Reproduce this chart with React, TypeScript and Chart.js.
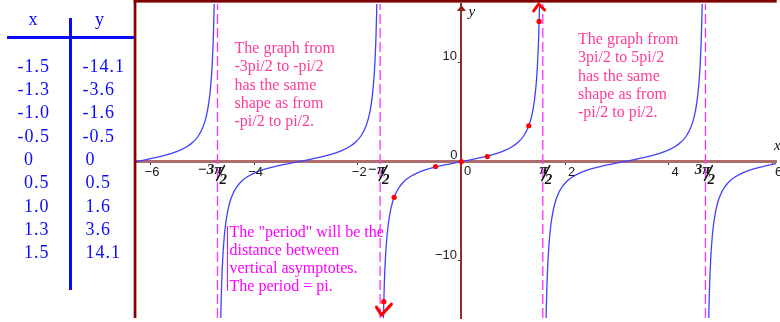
import { useEffect, useRef } from "react";
import { Chart, registerables } from "chart.js";

Chart.register(...registerables);

// Visible window of the graph
const X_MIN = -6.305;
const X_MAX = 6.075;
const Y_MIN = -15.74;
const Y_MAX = 15.85;

// Value table shown on the left
const tableX = ["-1.5", "-1.3", "-1.0", "-0.5", "0", "0.5", "1.0", "1.3", "1.5"];
const tableY = ["-14.1", "-3.6", "-1.6", "-0.5", "0", "0.5", "1.6", "3.6", "14.1"];

// Points plotted in red from the table
const dotX = [-1.5, -1.3, -0.5, 0, 0.5, 1.3, 1.5];
const dotY = [-14.1, -3.6, -0.5, 0, 0.5, 3.6, 14.1];

// One branch of y = tan x, as offsets from the branch centre
const branchDx = [
  -1.521, -1.505, -1.49, -1.47, -1.45, -1.42, -1.38, -1.33, -1.27, -1.2, -1.1, -1.0,
  -0.85, -0.7, -0.5, -0.3, -0.15, 0, 0.15, 0.3, 0.5, 0.7, 0.85, 1.0, 1.1, 1.2, 1.27,
  1.33, 1.38, 1.42, 1.45, 1.47, 1.49, 1.505, 1.521,
];
const branchY = [
  -20.06, -15.18, -12.35, -9.89, -8.24, -6.58, -5.18, -4.07, -3.22, -2.57, -1.96, -1.56,
  -1.14, -0.84, -0.55, -0.31, -0.15, 0, 0.15, 0.31, 0.55, 0.84, 1.14, 1.56, 1.96, 2.57,
  3.22, 4.07, 5.18, 6.58, 8.24, 9.89, 12.35, 15.18, 20.06,
];
// Centres of the branches that appear in the window (multiples of pi)
const branchCenters = [-6.283, -3.142, 0, 3.142, 6.283];

// Vertical asymptotes: -3pi/2, -pi/2, pi/2, 3pi/2
const asymptotes = [-4.712, -1.571, 1.571, 4.712];
const asymptoteNum = ["\u22123\u03c0", "\u2212\u03c0", "\u03c0", "3\u03c0"];

const noteLeft = [
  "The graph from",
  "-3pi/2 to -pi/2",
  "has the same",
  "shape as from",
  "-pi/2 to pi/2.",
];
const noteRight = [
  "The graph from",
  "3pi/2 to 5pi/2",
  "has the same",
  "shape as from",
  "-pi/2 to pi/2.",
];
const notePeriod = [
  'The "period" will be the',
  "distance between",
  "vertical asymptotes.",
  "The period = pi.",
];

const MINUS = "\u2212";
const fmt = (v: number) => (v < 0 ? MINUS + Math.abs(v) : String(v));

const SERIF = '"Liberation Serif", "Times New Roman", serif';
const SANS = '"Liberation Sans", Arial, sans-serif';

const overlay = {
  id: "overlay",
  afterDraw(chart: any) {
    const { ctx, chartArea: a } = chart;
    const xs = chart.scales.x;
    const ys = chart.scales.y;
    const px0 = xs.getPixelForValue(0);
    const py0 = ys.getPixelForValue(0);
    ctx.save();

    // frame edges (left and top)
    ctx.fillStyle = "#800000";
    ctx.fillRect(a.left - 1.3, 0, 2.7, a.bottom);
    ctx.fillRect(a.left - 1.3, 0, a.right - a.left + 2, 2.6);

    // y-axis arrowhead and axis names
    ctx.fillStyle = "rgb(140,35,35)";
    ctx.beginPath();
    ctx.moveTo(px0, a.top + 1);
    ctx.lineTo(px0 - 4.5, a.top + 7);
    ctx.lineTo(px0 + 4.5, a.top + 7);
    ctx.closePath();
    ctx.fill();
    ctx.fillStyle = "#111";
    ctx.font = "italic 15px " + SERIF;
    ctx.textAlign = "left";
    ctx.textBaseline = "alphabetic";
    ctx.fillText("y", px0 + 7, a.top + 12);
    ctx.fillText("x", a.right - 2, py0 - 12);

    // tick labels
    ctx.font = "13px " + SANS;
    ctx.fillStyle = "#1a1a1a";
    const mw = ctx.measureText(MINUS).width;
    xs.ticks.forEach((t: any) => {
      if (t.value === 0) return;
      const p = xs.getPixelForValue(t.value);
      ctx.textAlign = "left";
      const left = t.value < 0 ? p + 1.5 - mw : p + 3;
      ctx.fillText(fmt(t.value), left, py0 + 14.7);
    });
    ys.ticks.forEach((t: any) => {
      if (t.value === 0) return;
      const p = ys.getPixelForValue(t.value);
      ctx.textAlign = "right";
      ctx.fillText(fmt(t.value), px0 - 4.5, p - 2.3);
    });
    ctx.textAlign = "right";
    ctx.fillText("0", px0 - 4, py0 - 3);
    ctx.textAlign = "left";
    ctx.fillText("0", px0 + 2.5, py0 + 13.5);

    // hand-written labels at the asymptotes
    ctx.fillStyle = "#111";
    ctx.strokeStyle = "#111";
    ctx.lineWidth = 1.5;
    ctx.lineCap = "round";
    ctx.font = "italic bold 15px " + SERIF;
    asymptotes.forEach((v, i) => {
      const p = xs.getPixelForValue(v);
      ctx.textAlign = "right";
      ctx.fillText(asymptoteNum[i], p + 5, py0 + 12);
      ctx.beginPath();
      ctx.moveTo(p - 1, py0 + 19);
      ctx.lineTo(p + 7, py0 + 4);
      ctx.stroke();
      ctx.textAlign = "left";
      ctx.fillText("2", p + 2, py0 + 22);
    });

    // red arrow ends of the centre branch
    ctx.strokeStyle = "#ff0000";
    ctx.lineWidth = 3;
    ctx.lineCap = "round";
    ctx.lineJoin = "round";
    const tx = xs.getPixelForValue(1.49);
    ctx.beginPath();
    ctx.moveTo(tx - 5, a.top + 7);
    ctx.lineTo(tx, a.top);
    ctx.lineTo(tx + 6, a.top + 6);
    ctx.stroke();
    const bx = xs.getPixelForValue(-1.545);
    const by = ys.getPixelForValue(-15.45);
    ctx.beginPath();
    ctx.moveTo(bx - 5, by - 8);
    ctx.lineTo(bx, by);
    ctx.lineTo(bx + 10, by - 11);
    ctx.stroke();

    // notes
    ctx.textAlign = "left";
    ctx.font = "16px " + SERIF;
    ctx.fillStyle = "#ff3c96";
    noteLeft.forEach((s, i) => ctx.fillText(s, 234.5, 53 + i * 18.3));
    noteRight.forEach((s, i) => ctx.fillText(s, 578, 44 + i * 18.3));
    ctx.fillStyle = "#ff00ff";
    notePeriod.forEach((s, i) => ctx.fillText(s, 229.5, 236.5 + i * 18));
    ctx.strokeStyle = "#ff00ff";
    ctx.lineWidth = 1;
    ctx.lineCap = "butt";
    ctx.beginPath();
    ctx.moveTo(227.5, 226);
    ctx.lineTo(227.5, 291);
    ctx.stroke();

    ctx.restore();
  },
};

const TABLE_COLOR = "rgb(10,10,250)";
const rowBaseline = (i: number) => 71.7 + i * 23.33;

export default function App() {
  const ref = useRef<HTMLCanvasElement | null>(null);

  useEffect(() => {
    if (!ref.current) return;

    const dots = {
      data: dotX.map((x, i) => ({ x, y: dotY[i] })),
      showLine: false,
      pointRadius: 2.6,
      pointBackgroundColor: "#ff0000",
      pointBorderWidth: 0,
      order: 0,
    };
    const curves = branchCenters.map((c) => ({
      data: branchDx.map((d, i) => ({ x: c + d, y: branchY[i] })),
      borderColor: "rgb(64,64,255)",
      borderWidth: 1.3,
      pointRadius: 0,
      cubicInterpolationMode: "monotone",
      fill: false,
      order: 1,
    }));
    const dashes = asymptotes.map((v) => ({
      data: [
        { x: v, y: Y_MIN },
        { x: v, y: Y_MAX },
      ],
      borderColor: "rgb(255,50,255)",
      borderWidth: 1.3,
      borderDash: [10, 4],
      pointRadius: 0,
      fill: false,
      order: 2,
    }));

    const chart = new Chart(ref.current, {
      type: "line",
      data: { datasets: [dots, ...curves, ...dashes] as any },
      options: {
        animation: false,
        responsive: false,
        devicePixelRatio: 1,
        layout: { padding: { left: 135, top: 2, right: 0, bottom: 0 } },
        plugins: { legend: { display: false }, tooltip: { enabled: false } },
        scales: {
          x: {
            type: "linear",
            min: X_MIN,
            max: X_MAX,
            position: { y: 0 } as any,
            ticks: { display: false, stepSize: 2, includeBounds: false },
            grid: {
              display: true,
              drawOnChartArea: false,
              drawTicks: true,
              tickLength: 2,
              tickColor: "#333",
            },
            border: { display: true, color: "rgb(176,108,108)", width: 3 },
          },
          y: {
            type: "linear",
            min: Y_MIN,
            max: Y_MAX,
            position: { x: 0 } as any,
            ticks: { display: false, stepSize: 10, includeBounds: false },
            grid: {
              display: true,
              drawOnChartArea: false,
              drawTicks: true,
              tickLength: 2,
              tickColor: "#333",
            },
            border: { display: true, color: "rgb(150,45,45)", width: 2 },
          },
        },
      },
      plugins: [overlay],
    });
    return () => chart.destroy();
  }, []);

  const cell = (text: string, left: number, baseline: number) => (
    <span
      key={text + left + baseline}
      style={{
        position: "absolute",
        left,
        top: baseline - 15.1,
        fontFamily: SERIF,
        fontSize: 18,
        lineHeight: "18px",
        letterSpacing: 1,
        color: TABLE_COLOR,
        whiteSpace: "nowrap",
      }}
    >
      {text}
    </span>
  );

  return (
    <div
      style={{
        position: "fixed",
        left: 0,
        top: 0,
        width: 780,
        height: 322,
        background: "#fff",
        overflow: "hidden",
      }}
    >
      <canvas
        ref={ref}
        width={780}
        height={322}
        style={{ position: "absolute", left: 0, top: 0 }}
      />
      {cell("x", 28.5, 25)}
      {cell("y", 95, 25)}
      <div
        style={{
          position: "absolute",
          left: 7,
          top: 36.3,
          width: 127,
          height: 3,
          background: TABLE_COLOR,
        }}
      />
      <div
        style={{
          position: "absolute",
          left: 69,
          top: 18,
          width: 2.7,
          height: 272,
          background: TABLE_COLOR,
        }}
      />
      {tableX.map((s, i) => cell(s, s.startsWith("-") ? 17.5 : 24, rowBaseline(i)))}
      {tableY.map((s, i) => cell(s, s.startsWith("-") ? 82.5 : 85.5, rowBaseline(i)))}
    </div>
  );
}
